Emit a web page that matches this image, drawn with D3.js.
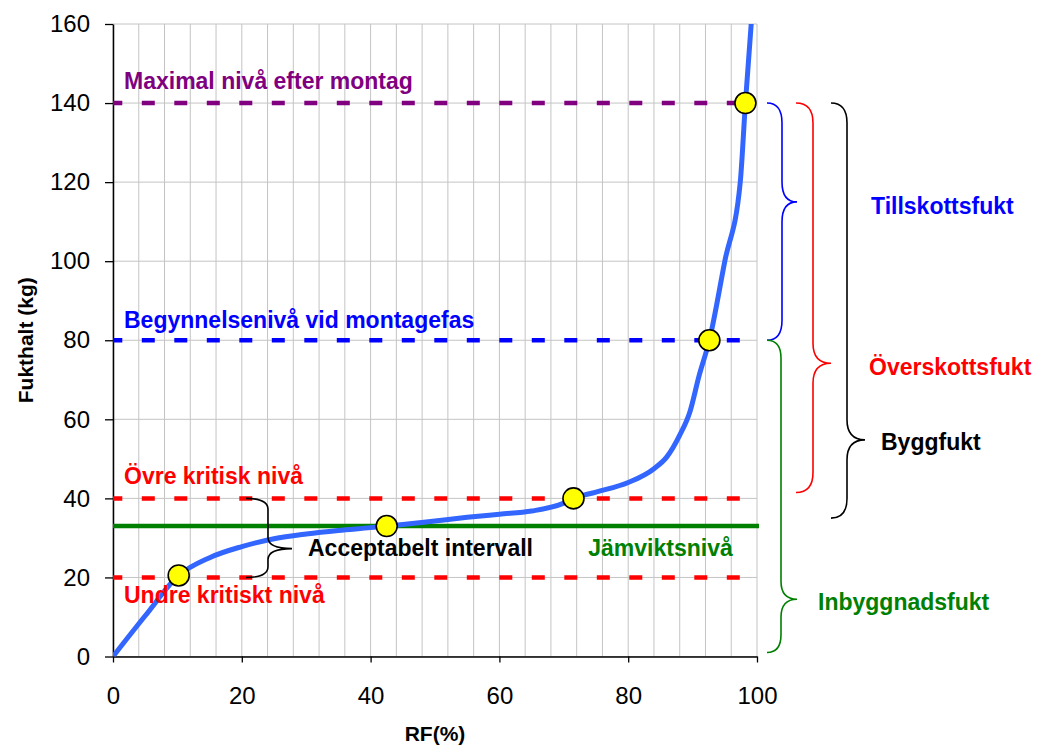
<!DOCTYPE html>
<html>
<head>
<meta charset="utf-8">
<script src="https://cdn.jsdelivr.net/npm/d3@7"></script>
<style>
  body { margin: 0; background: #fff; }
  svg { font-family: "Liberation Sans", Arial, sans-serif; }
</style>
</head>
<body>
<div id="chart"></div>
<script>
// sorption curve: relative humidity (%) vs moisture content (kg)
const rf = [0, 5, 10.2, 15, 20, 25, 30, 35, 40, 42.5, 45, 50, 55, 60, 65, 70, 71.5, 75, 80, 84, 86, 88, 89.6, 91, 92.6, 95.0, 97.4, 98.2, 99.1];
const fukthalt = [0, 10.3, 20.5, 25, 27.8, 29.8, 31.0, 31.9, 32.6, 33, 33.4, 34.3, 35.2, 36.0, 36.8, 38.8, 40, 41.6, 44, 47.5, 50.5, 56, 62, 71, 80, 100, 120, 140, 160];

// highlighted points on the curve
const markerRF = [10.2, 42.5, 71.5, 92.6, 98.2];
const markerKg = [20.5, 33, 40, 80, 140];

// horizontal reference levels
const levelLabels = ["Maximal nivå efter montag", "Begynnelsenivå vid montagefas", "Övre kritisk nivå", "Undre kritiskt nivå"];
const levelValues = [140, 80, 40, 20];
const jamviktLabel = "Jämviktsnivå";
const jamviktValue = 33;

const xTicks = [0, 20, 40, 60, 80, 100];
const yTicks = [0, 20, 40, 60, 80, 100, 120, 140, 160];

const width = 1043;
const height = 745;
const margin = { left: 113, top: 24, right: 286, bottom: 88.5 };

const levelColors = ["#800080", "#0000FF", "#FF0000", "#FF0000"];
const green = "#008000";

const svg = d3.select('#chart').append('svg')
    .attr('width', width)
    .attr('height', height);

const x = d3.scaleLinear().domain([0, 100]).range([margin.left, width - margin.right]);
const y = d3.scaleLinear().domain([0, 160]).range([height - margin.bottom, margin.top]);

// grid
svg.append('g').selectAll('line.v')
    .data(d3.range(0, 101, 4))
    .enter().append('line')
    .attr('x1', d => x(d)).attr('x2', d => x(d))
    .attr('y1', y(0)).attr('y2', y(160))
    .attr('stroke', '#c4c4c4').attr('stroke-width', 1);

svg.append('g').selectAll('line.h')
    .data(yTicks)
    .enter().append('line')
    .attr('x1', x(0)).attr('x2', x(100))
    .attr('y1', d => y(d)).attr('y2', d => y(d))
    .attr('stroke', '#c4c4c4').attr('stroke-width', 1);

// axes
const xAxis = svg.append('g')
    .attr('transform', `translate(0,${y(0)})`)
    .call(d3.axisBottom(x).tickValues(xTicks).tickSize(6).tickPadding(24).tickSizeOuter(0));
const yAxis = svg.append('g')
    .attr('transform', `translate(${x(0)},0)`)
    .call(d3.axisLeft(y).tickValues(yTicks).tickSize(8).tickPadding(15).tickSizeOuter(0));

[xAxis, yAxis].forEach(a => {
    a.select('.domain').attr('stroke', '#000').attr('stroke-width', 1.5);
    a.selectAll('.tick line').attr('stroke', '#000').attr('stroke-width', 1.3);
    a.selectAll('.tick text')
        .attr('font-size', 24)
        .attr('font-family', '"Liberation Sans", Arial, sans-serif')
        .attr('fill', '#000');
});

svg.append('text')
    .attr('x', (x(0) + x(100)) / 2)
    .attr('y', 741)
    .attr('text-anchor', 'middle')
    .attr('font-size', 21)
    .attr('font-weight', 'bold')
    .text('RF(%)');

svg.append('text')
    .attr('transform', `translate(33,${(y(0) + y(160)) / 2}) rotate(-90)`)
    .attr('text-anchor', 'middle')
    .attr('font-size', 21)
    .attr('font-weight', 'bold')
    .text('Fukthalt (kg)');

// dashed reference levels
const dashed = svg.append('g');
levelValues.forEach((v, i) => {
    dashed.append('line')
        .attr('x1', x(0)).attr('x2', x(100))
        .attr('y1', y(v)).attr('y2', y(v))
        .attr('stroke', levelColors[i])
        .attr('stroke-width', 4.5)
        .attr('stroke-dasharray', '13,19.5')
        .attr('stroke-dashoffset', 3.7);
});

// equilibrium level
svg.append('line')
    .attr('x1', x(0)).attr('x2', x(100) + 2)
    .attr('y1', y(jamviktValue)).attr('y2', y(jamviktValue))
    .attr('stroke', green)
    .attr('stroke-width', 4.5);

// curve
const line = d3.line()
    .x(d => x(d[0]))
    .y(d => y(d[1]))
    .curve(d3.curveMonotoneX);

svg.append('clipPath').attr('id', 'plot-clip')
    .append('rect')
    .attr('x', x(0)).attr('y', y(160))
    .attr('width', x(100) - x(0)).attr('height', y(0) - y(160));

svg.append('path')
    .datum(d3.zip(rf, fukthalt))
    .attr('d', line)
    .attr('clip-path', 'url(#plot-clip)')
    .attr('fill', 'none')
    .attr('stroke', '#3366FF')
    .attr('stroke-width', 5)
    .attr('stroke-linejoin', 'round');

// markers
svg.append('g').selectAll('circle')
    .data(d3.zip(markerRF, markerKg))
    .enter().append('circle')
    .attr('cx', d => x(d[0]))
    .attr('cy', d => y(d[1]))
    .attr('r', 10.5)
    .attr('fill', '#FFFF00')
    .attr('stroke', '#000')
    .attr('stroke-width', 1.6);

// level labels
const labelOffsets = [-14, -12, -14, 26];
levelLabels.forEach((t, i) => {
    svg.append('text')
        .attr('x', x(0) + 11)
        .attr('y', y(levelValues[i]) + labelOffsets[i])
        .attr('font-size', 23)
        .attr('font-weight', 'bold')
        .attr('fill', levelColors[i])
        .text(t);
});

svg.append('text')
    .attr('x', x(73.8))
    .attr('y', y(jamviktValue) + 30)
    .attr('font-size', 23)
    .attr('font-weight', 'bold')
    .attr('fill', green)
    .text(jamviktLabel);

// curly braces
function brace(xEnd, xV, xTip, yTop, yTip, yBot, r) {
    return `M${xEnd},${yTop} Q${xV},${yTop} ${xV},${yTop + r}` +
        ` L${xV},${yTip - r} Q${xV},${yTip} ${xTip},${yTip}` +
        ` Q${xV},${yTip} ${xV},${yTip + r}` +
        ` L${xV},${yBot - r} Q${xV},${yBot} ${xEnd},${yBot}`;
}

const braces = [
    { xEnd: 246, xV: 268, xTip: 292, top: 40, tip: 27.3, bot: 20, r: 11, color: '#000', label: 'Acceptabelt intervall', lx: 308, ly: 556, lc: '#000' },
    { xEnd: 767, xV: 782, xTip: 797, top: 140, tip: 115, bot: 80, r: 20, color: '#0000FF', label: 'Tillskottsfukt', lx: 871, ly: 214, lc: '#0000FF' },
    { xEnd: 796, xV: 813, xTip: 831, top: 140, tip: 74.2, bot: 41.5, r: 20, color: '#FF0000', label: 'Överskottsfukt', lx: 869, ly: 375, lc: '#FF0000' },
    { xEnd: 831, xV: 847, xTip: 865, top: 140, tip: 54.8, bot: 35, r: 20, color: '#000', label: 'Byggfukt', lx: 881, ly: 450, lc: '#000' },
    { xEnd: 767, xV: 781, xTip: 797, top: 80, tip: 14.5, bot: 1, r: 18, color: green, label: 'Inbyggnadsfukt', lx: 818, ly: 610, lc: green }
];

braces.forEach(b => {
    svg.append('path')
        .attr('d', brace(b.xEnd, b.xV, b.xTip, y(b.top), y(b.tip), y(b.bot), b.r))
        .attr('fill', 'none')
        .attr('stroke', b.color)
        .attr('stroke-width', 1.6);
    svg.append('text')
        .attr('x', b.lx)
        .attr('y', b.ly)
        .attr('font-size', 23)
        .attr('font-weight', 'bold')
        .attr('fill', b.lc)
        .text(b.label);
});
</script>
</body>
</html>
